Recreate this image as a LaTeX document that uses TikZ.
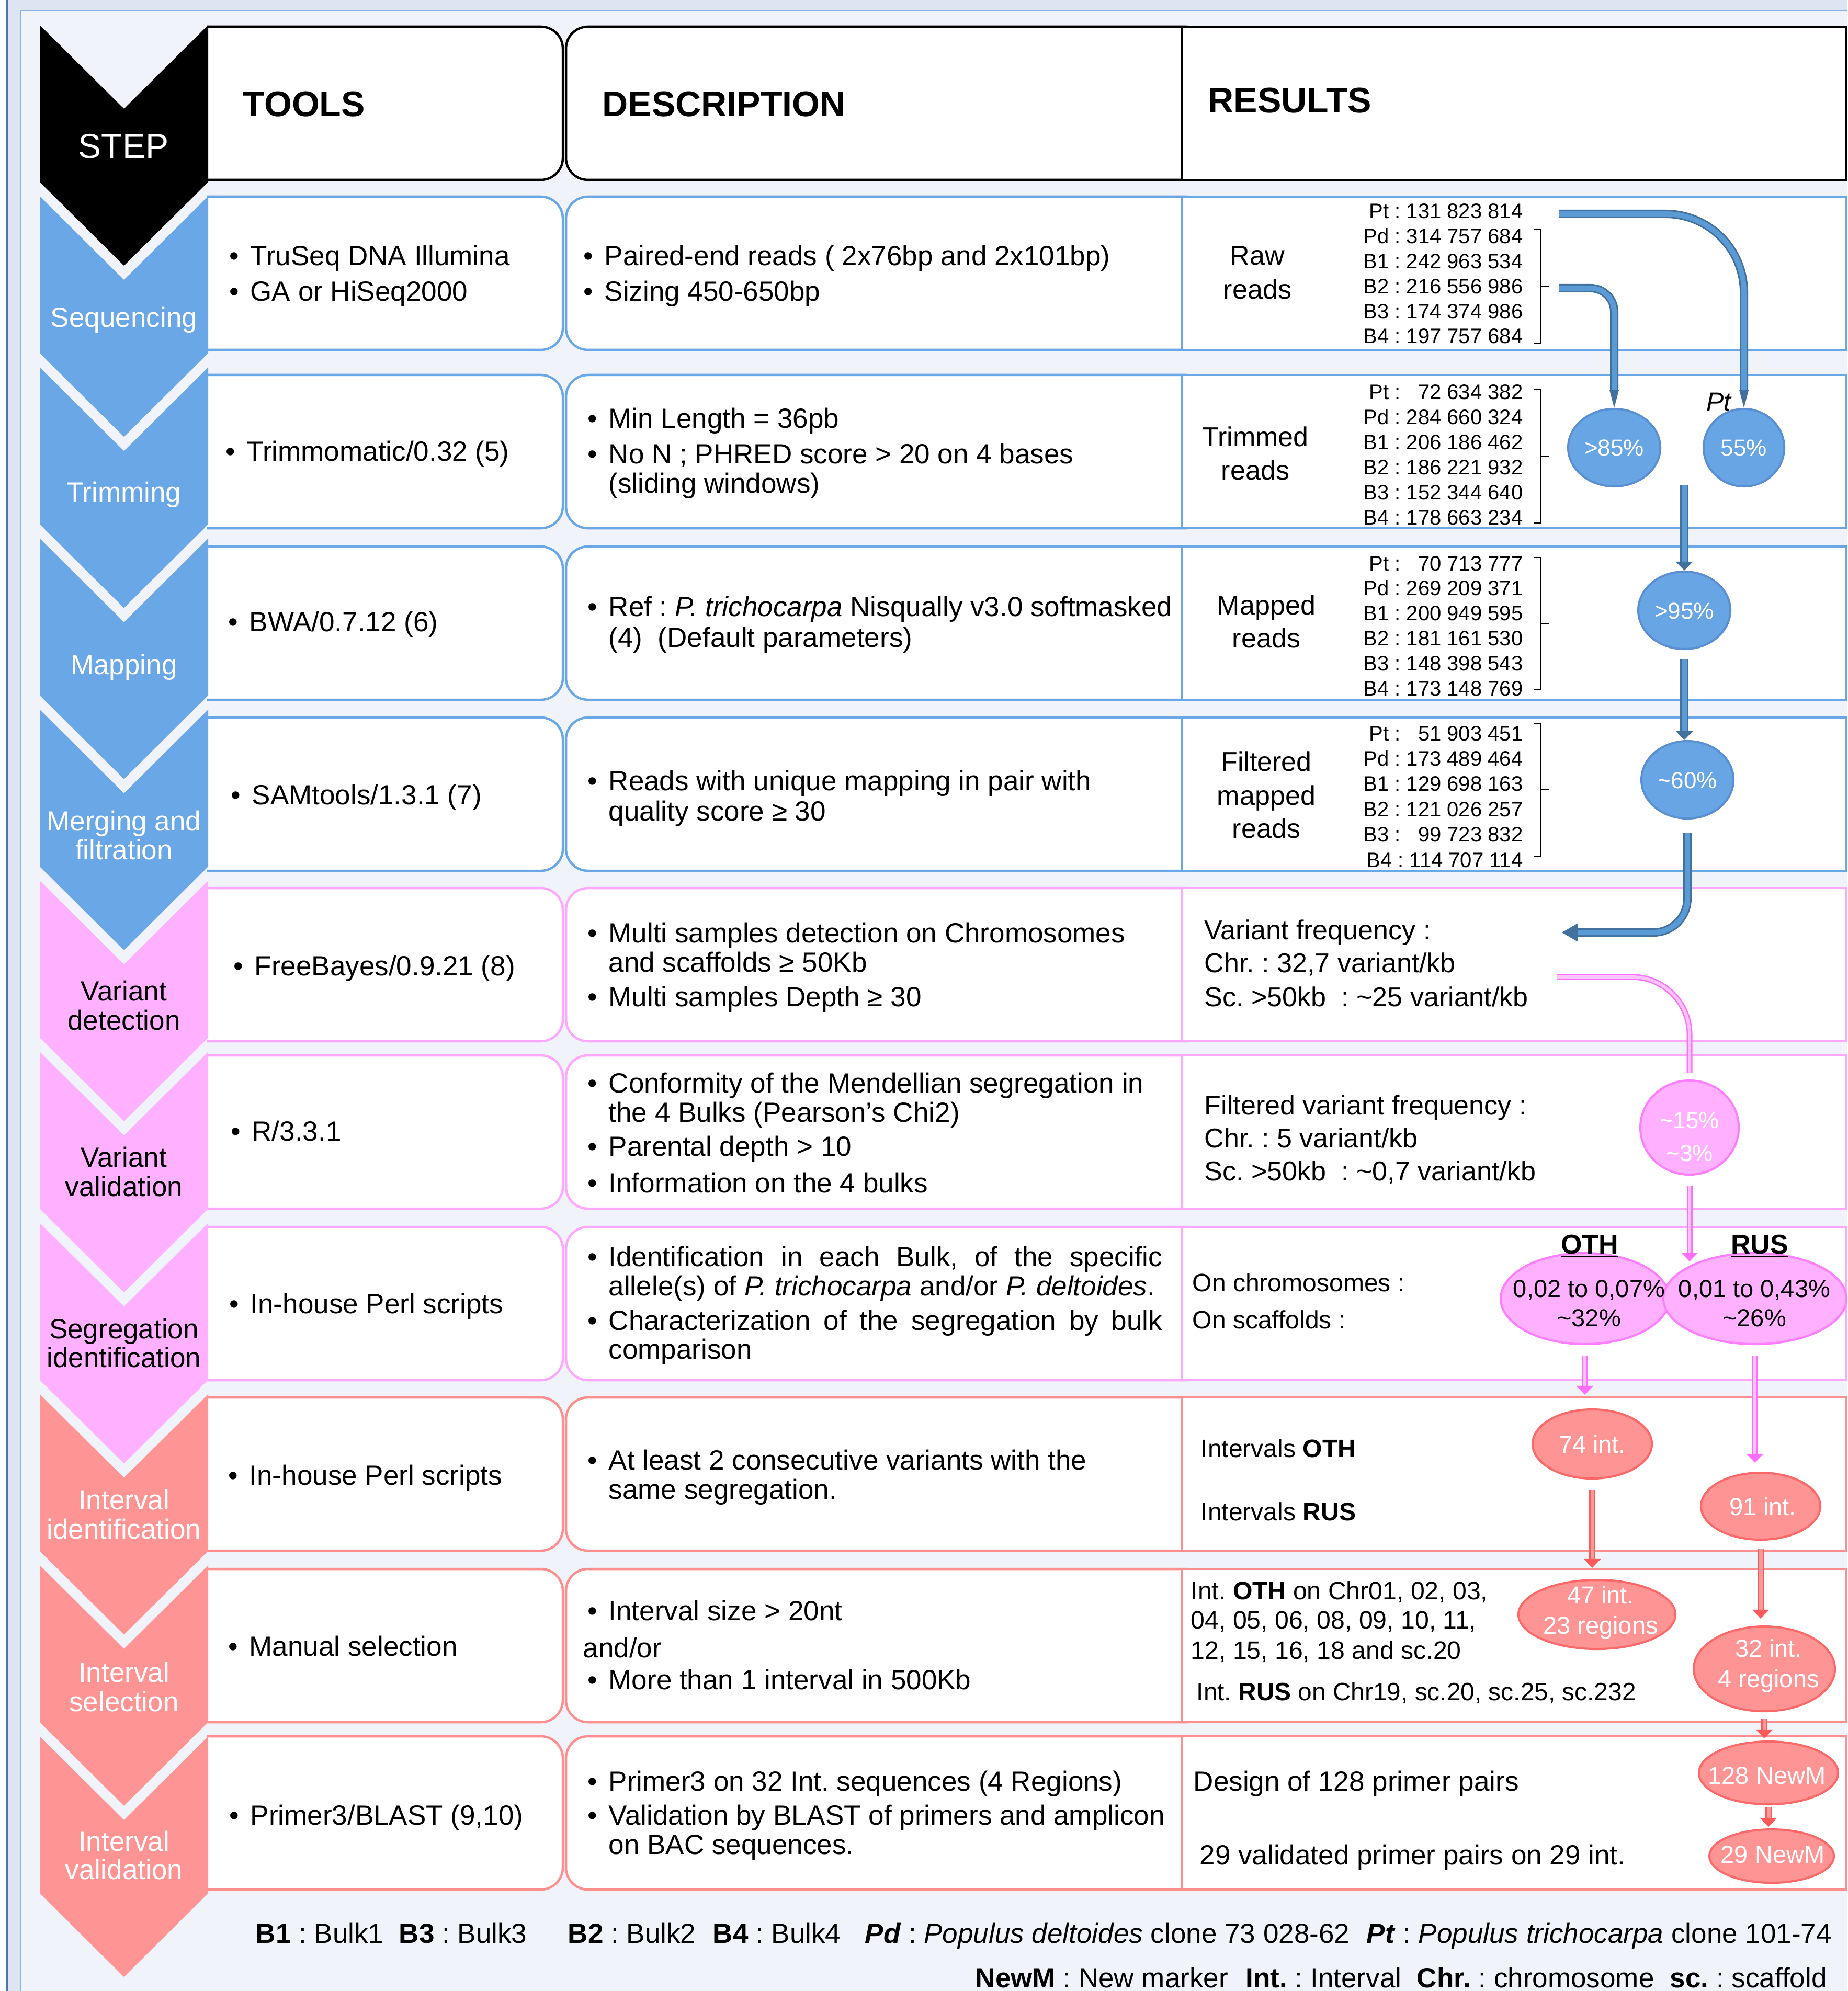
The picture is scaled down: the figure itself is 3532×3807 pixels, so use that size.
\documentclass[tikz,border=0pt]{standalone}
\usepackage{fontspec}
\setmainfont{Liberation Sans}
\usetikzlibrary{arrows.meta,shapes.geometric}

\definecolor{framebg}{HTML}{DDE5F2}
\definecolor{innerbg}{HTML}{F0F4FA}
\definecolor{frameline}{HTML}{4F76A8}
\definecolor{framethin}{HTML}{8DB1DE}
\definecolor{stepblue}{HTML}{69A7E7}
\definecolor{steppink}{HTML}{FFB0FF}
\definecolor{stepsalmon}{HTML}{FF9494}
\definecolor{linepink}{HTML}{FFA8FF}
\definecolor{linesalmon}{HTML}{FF8F8F}
\definecolor{arrblue}{HTML}{5B9BD5}
\definecolor{arrbluedark}{HTML}{41719C}
\definecolor{bubblue}{HTML}{67A5E5}
\definecolor{bubbluedark}{HTML}{5A8FD2}
\definecolor{arrpink}{HTML}{FFC4FF}
\definecolor{arrpinkdark}{HTML}{FF6EFF}
\definecolor{bubpinkdark}{HTML}{FF7DFF}
\definecolor{arrsalmon}{HTML}{FF9A9A}
\definecolor{arrsalmondark}{HTML}{FF5A5A}
\definecolor{bubsalmondark}{HTML}{FF6868}

\frenchspacing
\newcommand{\bul}{\llap{\textbullet\hspace{0.22cm}}}
\newcommand{\tld}{\textasciitilde}

\tikzset{
  cellbox/.style={fill=white, line width=0.045cm, rounded corners=0.42cm},
  txt/.style={anchor=base west, inner sep=0pt, font=\fontsize{15.08}{18}\selectfont},
  ctxt/.style={anchor=base, inner sep=0pt, font=\fontsize{15.08}{18}\selectfont},
  numtxt/.style={anchor=base east, inner sep=0pt, font=\fontsize{11.38}{13}\selectfont},
  hdr/.style={anchor=base west, inner sep=0pt, font=\fontsize{19.35}{22}\selectfont\bfseries},
  bubble/.style={ellipse, inner sep=0pt, line width=0.04cm},
  bubblue/.style={bubble, fill=bubblue, draw=bubbluedark},
  bubpink/.style={bubble, fill=steppink, draw=bubpinkdark},
  bubsalmon/.style={bubble, fill=stepsalmon, draw=bubsalmondark},
  bubtxt/.style={anchor=base, inner sep=0pt, font=\fontsize{#1}{16}\selectfont},
  bracket/.style={line width=0.02cm, black},
  bluearr/.style={draw=arrbluedark, double=arrblue, line width=0.03cm, double distance=0.1cm},
  pinkarr/.style={draw=arrpinkdark, double=arrpink, line width=0.025cm, double distance=0.06cm},
  salarr/.style={draw=arrsalmondark, double=arrsalmon, line width=0.025cm, double distance=0.07cm},
  smalltip/.style={-{Triangle[width=0.32cm,length=0.17cm]}},
  taper/.style={-{Triangle[width=0.17cm,length=0.34cm]}}
}

\begin{document}
\begin{tikzpicture}[x=0.01cm, y=-0.01cm]
\useasboundingbox (0,0) rectangle (3532,3807);

% frame and background
\fill[white] (0,0) rectangle (3532,3807);
\fill[framebg] (16,0) rectangle (3532,3807);
\fill[innerbg] (40,21) rectangle (3532,3807);
\draw[framethin, line width=0.015cm] (39.5,3807) -- (39.5,20.5) -- (3532,20.5);
\fill[frameline] (11,0) rectangle (16,3807);

% table cells
\begin{scope}
\clip (396,0) rectangle (3532,3807);
\foreach \t/\col in {51/black, 376/stepblue, 717/stepblue, 1045/stepblue, 1372/stepblue,
    1698/linepink, 2018/linepink, 2346/linepink, 2672/linesalmon, 3000/linesalmon, 3320/linesalmon}{
  \draw[cellbox, draw=\col] (354,\t) rectangle (1076,\t+293);
  \draw[cellbox, draw=\col] (1082,\t) rectangle (2310,\t+293);
  \draw[cellbox, draw=\col, sharp corners] (2260,\t) rectangle (3530,\t+293);
}
\end{scope}

% step chevrons
\foreach \k/\col in {0/black, 1/stepblue, 2/stepblue, 3/stepblue, 4/stepblue, 5/steppink,
    6/steppink, 7/steppink, 8/stepsalmon, 9/stepsalmon, 10/stepsalmon}
  \fill[\col] (76,48+327.2*\k) -- ++(161,160) -- ++(161,-160) -- ++(0,300) -- ++(-161,160) -- ++(-161,-160) -- cycle;

\node[ctxt, text=white, font=\fontsize{18.8}{22}\selectfont] (stephdr) at (236,303) {STEP};
\foreach \y/\s/\c [count=\i] in {609/Sequencing/white, 942/Trimming/white, 1272/Mapping/white,
    1571/Merging and/white, 1626/filtration/white, 1896/Variant/black, 1952/detection/black,
    2214/Variant/black, 2270/validation/black, 2542/Segregation/black, 2597/identification/black,
    2869/Interval/white, 2925/identification/white, 3199/Interval/white, 3255/selection/white,
    3522/Interval/white, 3576/validation/white}
  \node[ctxt, text=\c] (step\i) at (237,\y+17) {\s};

% headers
\node[hdr] (htools) at (464,223) {TOOLS};
\node[hdr] (hdesc) at (1151,223) {DESCRIPTION};
\node[hdr] (hres) at (2309,216) {RESULTS};

% tools
\foreach \x/\y/\s [count=\i] in {478/490/{TruSeq DNA Illumina}, 478/558/{GA or HiSeq2000},
    471/864/{Trimmomatic/0.32 (5)}, 476/1189/{BWA/0.7.12 (6)}, 481/1520/{SAMtools/1.3.1 (7)},
    486/1847/{FreeBayes/0.9.21 (8)}, 481/2163/{R/3.3.1}, 478/2493/{In-house Perl scripts},
    476/2821/{In-house Perl scripts}, 476/3148/{Manual selection}, 478/3471/{Primer3/BLAST (9,10)}}
  \node[txt] (tool\i) at (\x,\y+18) {\bul\s};

% descriptions
\foreach \x/\y/\s [count=\i] in {
    1155/490/{\bul Paired-end reads ( 2x76bp and 2x101bp)},
    1155/558/{\bul Sizing 450-650bp},
    1163/801/{\bul Min Length = 36pb},
    1163/869/{\bul No N ; PHRED score > 20 on 4 bases},
    1163/925/{(sliding windows)},
    1163/1160/{\bul Ref : \textit{P. trichocarpa} Nisqually v3.0 softmasked},
    1163/1219/{(4)\ \ (Default parameters)},
    1163/1493/{\bul Reads with unique mapping in pair with},
    1163/1551/{quality score ≥ 30},
    1163/1784/{\bul Multi samples detection on Chromosomes},
    1163/1840/{and scaffolds ≥ 50Kb},
    1163/1906/{\bul Multi samples Depth ≥ 30},
    1163/2071/{\bul Conformity of the Mendellian segregation in},
    1163/2127/{the 4 Bulks (Pearson’s Chi2)},
    1163/2192/{\bul Parental depth > 10},
    1163/2262/{\bul Information on the 4 bulks},
    1163/2403/{\bul\makebox[10.58cm][s]{Identification in each Bulk, of the specific}},
    1163/2459/{allele(s) of \textit{P. trichocarpa} and/or \textit{P. deltoides}.},
    1163/2525/{\bul\makebox[10.58cm][s]{Characterization of the segregation by bulk}},
    1163/2580/{comparison},
    1163/2792/{\bul At least 2 consecutive variants with the},
    1163/2848/{same segregation.},
    1163/3080/{\bul Interval size > 20nt},
    1114/3151/{and/or},
    1163/3212/{\bul More than 1 interval in 500Kb},
    1163/3406/{\bul Primer3 on 32 Int. sequences (4 Regions)},
    1163/3471/{\bul Validation by BLAST of primers and amplicon},
    1163/3527/{on BAC sequences.}}
  \node[txt] (desc\i) at (\x,\y+18) {\s};

% results
\foreach \x/\y/\s [count=\i] in {2404/489/Raw, 2404/554/reads, 2400/836/Trimmed, 2400/900/reads,
    2421/1157/Mapped, 2421/1220/reads, 2421/1456/Filtered, 2421/1521/mapped, 2421/1584/reads}
  \node[ctxt, font=\fontsize{14.8}{18}\selectfont] (rlab\i) at (\x,\y+18) {\s};

\foreach \x/\y/\sz/\s [count=\i] in {
    2302/1779/14.8/{Variant frequency :},
    2302/1842/14.8/{Chr. : 32,7 variant/kb},
    2302/1907/14.8/{Sc. >50kb\ \ : \tld25 variant/kb},
    2302/2114/14.8/{Filtered variant frequency :},
    2302/2177/14.8/{Chr. : 5 variant/kb},
    2302/2240/14.8/{Sc. >50kb\ \ : \tld0,7 variant/kb},
    2279/2452/13.66/{On chromosomes :},
    2279/2523/13.66/{On scaffolds :},
    2295/2769/13.66/{Intervals \underline{\textbf{OTH}}},
    2295/2890/13.66/{Intervals \underline{\textbf{RUS}}},
    2276/3041/13.7/{Int. \underline{\textbf{OTH}} on Chr01, 02, 03,},
    2276/3097/13.7/{04, 05, 06, 08, 09, 10, 11,},
    2276/3155/13.7/{12, 15, 16, 18 and sc.20},
    2287/3234/13.6/{Int. \underline{\textbf{RUS}} on Chr19, sc.20, sc.25, sc.232},
    2281/3407/15.08/{Design of 128 primer pairs},
    2293/3548/15.08/{29 validated primer pairs on 29 int.}}
  \node[txt, font=\fontsize{\sz}{18}\selectfont] (res\i) at (\x,\y+17) {\s};

% read counts
\foreach \l/\n [count=\i from 0] in {Pt/{131 823 814}, Pd/{314 757 684}, B1/{242 963 534},
    B2/{216 556 986}, B3/{174 374 986}, B4/{197 757 684}}
  \node[numtxt] (raw\i) at (2912,418+47.8*\i) {\l\ : \n};
\foreach \l/\n [count=\i from 0] in {Pt/{\phantom{0}72 634 382}, Pd/{284 660 324}, B1/{206 186 462},
    B2/{186 221 932}, B3/{152 344 640}, B4/{178 663 234}}
  \node[numtxt] (trim\i) at (2912,764+48*\i) {\l\ : \n};
\foreach \l/\n [count=\i from 0] in {Pt/{\phantom{0}70 713 777}, Pd/{269 209 371}, B1/{200 949 595},
    B2/{181 161 530}, B3/{148 398 543}, B4/{173 148 769}}
  \node[numtxt] (map\i) at (2912,1091+47.8*\i) {\l\ : \n};
\foreach \l/\n [count=\i from 0] in {Pt/{\phantom{0}51 903 451}, Pd/{173 489 464}, B1/{129 698 163},
    B2/{121 026 257}, B3/{\phantom{0}99 723 832}, B4/{114 707 114}}
  \node[numtxt] (filt\i) at (2912,1416+48.4*\i) {\l\ : \n};

\foreach \a/\b in {438/656, 745/1000, 1066/1319, 1383/1637}
  \draw[bracket] (2933,\a) -- (2946,\a) -- (2946,\b) -- (2933,\b) (2946,{(\a+\b)/2}) -- (2962,{(\a+\b)/2});

% bubbles
\node[bubblue, minimum width=1.76cm, minimum height=1.48cm] (p85) at (3086,856) {};
\node[bubblue, minimum width=1.54cm, minimum height=1.48cm] (p55) at (3334,856) {};
\node[bubblue, minimum width=1.76cm, minimum height=1.48cm] (p95) at (3220,1167) {};
\node[bubblue, minimum width=1.76cm, minimum height=1.48cm] (p60) at (3226,1491) {};
\node[bubpink, minimum width=1.88cm, minimum height=1.80cm] (p15) at (3230,2156) {};
\node[bubpink, minimum width=3.22cm, minimum height=1.74cm] (oth) at (3030,2483) {};
\node[bubpink, minimum width=3.50cm, minimum height=1.74cm] (rus) at (3355,2483) {};
\node[bubsalmon, minimum width=2.28cm, minimum height=1.32cm] (e74) at (3044,2761) {};
\node[bubsalmon, minimum width=2.28cm, minimum height=1.28cm] (e91) at (3366,2880) {};
\node[bubsalmon, minimum width=3.00cm, minimum height=1.32cm] (e47) at (3053,3087) {};
\node[bubsalmon, minimum width=2.70cm, minimum height=1.62cm] (e32) at (3373,3191) {};
\node[bubsalmon, minimum width=2.66cm, minimum height=1.20cm] (e128) at (3381,3390) {};
\node[bubsalmon, minimum width=2.38cm, minimum height=1.02cm] (e29) at (3387,3549) {};

\foreach \x/\y/\sz/\c/\s [count=\i] in {3086/872/12.52/white/{>85\%}, 3334/872/12.52/white/{55\%},
    3220/1183/12.52/white/{>95\%}, 3226/1507/12.52/white/{\tld60\%},
    3230/2157/12.52/white/{\tld15\%}, 3230/2220/12.52/white/{\tld3\%},
    3038/2480/13.37/black/{0,02 to 0,07\%}, 3038/2536/13.37/black/{\tld32\%},
    3354/2480/13.37/black/{0,01 to 0,43\%}, 3354/2536/13.37/black/{\tld26\%},
    3044/2778/13.37/white/{74 int.}, 3370/2897/13.37/white/{91 int.},
    3060/3066/13.37/white/{47 int.}, 3060/3124/13.37/white/{23 regions},
    3381/3168/13.37/white/{32 int.}, 3381/3226/13.37/white/{4 regions},
    3378/3411/13.37/white/{128 NewM}, 3389/3562/13.37/white/{29 NewM}}
  \node[bubtxt=\sz, text=\c] (bt\i) at (\x,\y) {\s};

\node[ctxt, font=\fontsize{14.8}{18}\selectfont\bfseries] (hoth) at (3039,2397) {\underline{OTH}};
\node[ctxt, font=\fontsize{14.8}{18}\selectfont\bfseries] (hrus) at (3364,2397) {\underline{RUS}};
\node[ctxt, font=\fontsize{14.2}{18}\selectfont] (ptlbl) at (3287,786) {\underline{\textit{Pt}}};

% arrows
\coordinate (ptstart) at (2980,409);
\coordinate (bkstart) at (2980,551);
\coordinate (joint) at (3220,927);
\coordinate (vdend) at (2986,1783);
\coordinate (vdout) at (2977,1868);
\coordinate (split) at (3230,2412);

\draw[bluearr, rounded corners=1.5cm, taper] (ptstart) -| (p55.north);
\draw[bluearr, rounded corners=0.45cm, taper] (bkstart) -| (p85.north);
\draw[bluearr, smalltip] (joint) -- (p95.north);
\draw[bluearr, smalltip, shorten <=0.18cm] (p95.south) -- (p95.south |- p60.north);
\draw[bluearr, rounded corners=0.65cm, shorten <=0.26cm, -{Triangle[width=0.34cm,length=0.3cm]}] (p60.south) |- (vdend);

\draw[pinkarr, rounded corners=1.1cm, shorten >=0.12cm] (vdout) -| (p15.north);
\draw[pinkarr, smalltip, shorten <=0.19cm] (p15.south) -- (split);
\draw[pinkarr, smalltip, shorten <=0.2cm, shorten >=0.26cm] (oth.south) -- (oth.south |- e74.north);
\draw[pinkarr, smalltip, shorten <=0.2cm, shorten >=0.17cm] (rus.south) -- (rus.south |- e91.north);

\draw[salarr, smalltip, shorten <=0.2cm, shorten >=0.21cm] (e74.south) -- (e74.south |- e47.north);
\draw[salarr, smalltip, shorten <=0.15cm, shorten >=0.13cm] (e91.south) -- (e91.south |- e32.north);
\draw[salarr, smalltip, shorten <=0.12cm, shorten >=0.04cm] (e32.south) -- (e32.south |- e128.north);
\draw[salarr, smalltip, shorten <=0.03cm, shorten >=0.03cm] (e128.south) -- (e128.south |- e29.north);

% legend
\foreach \x/\y/\s [count=\i] in {488/3715/{\textbf{B1} : Bulk1}, 762/3715/{\textbf{B3} : Bulk3},
    1085/3715/{\textbf{B2} : Bulk2}, 1362/3715/{\textbf{B4} : Bulk4},
    1653/3715/{\textbf{\textit{Pd}} : \textit{Populus deltoides} clone 73 028-62},
    2612/3715/{\textbf{\textit{Pt}} : \textit{Populus trichocarpa} clone 101-74},
    1864/3800/{\textbf{NewM} : New marker}, 2381/3800/{\textbf{Int.} : Interval},
    2708/3800/{\textbf{Chr.} : chromosome}, 3192/3800/{\textbf{sc.} : scaffold}}
  \node[txt] (legend\i) at (\x,\y) {\s};

\end{tikzpicture}
\end{document}
